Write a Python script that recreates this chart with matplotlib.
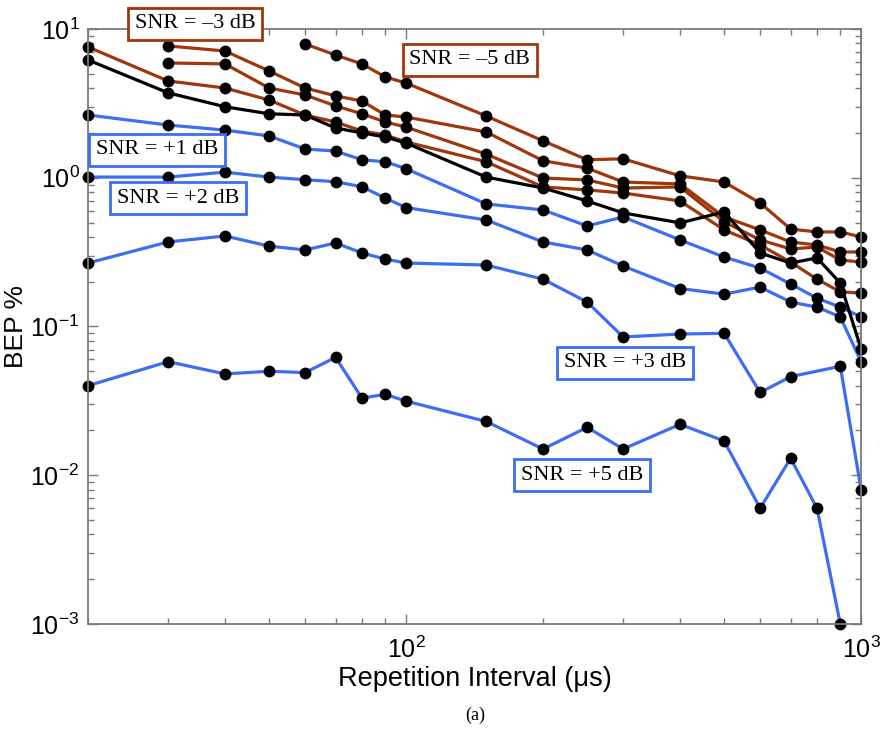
import matplotlib
matplotlib.use("Agg")
import matplotlib.pyplot as plt

plt.rcParams['font.family'] = ['Liberation Sans', 'DejaVu Sans']
plt.rcParams['mathtext.fontset'] = 'custom'
plt.rcParams['mathtext.rm'] = 'Liberation Sans'

# repetition interval (us)
x_all = [20, 30, 40, 50, 60, 70, 80, 90, 100, 150, 200, 250, 300, 400, 500, 600, 700, 800, 900, 1000]
x_from30 = x_all[1:]
x_from60 = x_all[4:]
x_snr5 = x_all[:-1]
x_snr3 = [20, 30, 40, 50, 60, 70, 80, 90, 100, 150, 200, 250, 300, 400, 500, 600, 700, 900, 1000]

# brown curves (low SNR)
brown_a = [7.57, 4.47, 4.01, 3.33, 2.64, 2.37, 2.06, 1.94, 1.74, 1.28, 0.867, 0.828, 0.789, 0.698, 0.446, 0.353, 0.271, 0.208, 0.171, 0.168]
brown_b = [7.69, 7.11, 5.22, 4.01, 3.55, 3.28, 2.64, 2.56, 2.03, 1.30, 1.16, 0.936, 0.908, 0.545, 0.446, 0.370, 0.353, 0.317, 0.317]
brown_c = [5.91, 5.82, 4.01, 3.60, 3.04, 2.69, 2.37, 2.19, 1.44, 0.996, 0.966, 0.853, 0.867, 0.505, 0.382, 0.332, 0.342, 0.280, 0.271]
brown_d = [7.93, 6.68, 5.82, 4.76, 4.33, 2.60, 1.77, 1.32, 1.34, 1.03, 0.936, 0.676, 0.452, 0.432, 0.432, 0.40]

# black curve
black_v = [6.19, 3.72, 3.0, 2.69, 2.64, 2.16, 2.0, 1.88, 1.71, 1.01, 0.853, 0.698, 0.58, 0.497, 0.589, 0.312, 0.267, 0.289, 0.196, 0.0706]

# blue curves (high SNR)
snr1 = [2.64, 2.26, 2.09, 1.91, 1.56, 1.51, 1.32, 1.28, 1.15, 0.667, 0.607, 0.474, 0.545, 0.382, 0.293, 0.247, 0.193, 0.155, 0.135, 0.116]
snr2 = [1.01, 1.01, 1.09, 1.01, 0.97, 0.94, 0.87, 0.73, 0.63, 0.52, 0.37, 0.327, 0.255, 0.18, 0.165, 0.184, 0.146, 0.135, 0.116, 0.058]
snr3 = [0.267, 0.37, 0.406, 0.347, 0.327, 0.364, 0.312, 0.284, 0.267, 0.259, 0.208, 0.146, 0.085, 0.089, 0.090, 0.036, 0.046, 0.054, 0.008]
snr5 = [0.040, 0.058, 0.048, 0.050, 0.049, 0.062, 0.033, 0.035, 0.0315, 0.023, 0.015, 0.021, 0.015, 0.022, 0.017, 0.006, 0.013, 0.006, 0.001]

BROWN = '#A0360C'
BLUE = '#3D6EF2'

fig = plt.figure(figsize=(8.85, 7.37), dpi=100)
ax = fig.add_axes([0.0994, 0.1533, 0.8736, 0.8074])

mk = dict(marker='o', markersize=7.5, markerfacecolor='black', markeredgecolor='black',
          lw=2.3, clip_on=False)

ax.plot(x_all, snr1, color=BLUE, **mk)
ax.plot(x_all, snr2, color=BLUE, **mk)
ax.plot(x_snr3, snr3, color=BLUE, **mk)
ax.plot(x_snr5, snr5, color=BLUE, **mk)

ax.plot(x_all, brown_a, color=BROWN, **mk)
ax.plot(x_from30, brown_b, color=BROWN, **mk)
ax.plot(x_from30, brown_c, color=BROWN, **mk)
ax.plot(x_from60, brown_d, color=BROWN, **mk)

ax.plot(x_all, black_v, color='black', **mk)

ax.set_xscale('log')
ax.set_yscale('log')
ax.set_xlim(20, 1000)
ax.set_ylim(1e-3, 10)

for s in ax.spines.values():
    s.set_color('#7a7a7a')
    s.set_linewidth(1.3)
ax.tick_params(which='both', direction='in', top=True, right=True, color='#7a7a7a', labelsize=18)
ax.tick_params(which='major', length=7, width=1)
ax.tick_params(which='minor', length=4, width=1)
ax.tick_params(axis='x', pad=9)
ax.tick_params(axis='y', pad=6)

ax.set_xlabel('Repetition Interval (μs)', fontsize=19.5, labelpad=2)
ax.set_ylabel('BEP %', fontsize=19, labelpad=2)

# labels of the curves
box_font = dict(fontsize=16, family='Liberation Serif', ha='center', va='center')
def label(x, y, txt, col):
    ax.text(x, y, txt, **box_font, clip_on=False,
            bbox=dict(boxstyle='square,pad=0.3', facecolor='white', edgecolor=col, linewidth=2))

label(34.4, 10.8, 'SNR = –3 dB', BROWN)
label(138, 6.19, 'SNR = –5 dB', BROWN)
label(28.4, 1.54, 'SNR = +1 dB', BLUE)
label(31.5, 0.73, 'SNR = +2 dB', BLUE)
label(303, 0.0569, 'SNR = +3 dB', BLUE)
label(244, 0.0100, 'SNR = +5 dB', BLUE)

fig.text(0.537, 0.03, '(a)', fontsize=13, family='Liberation Serif', ha='center', va='center')

fig.savefig('out.png', dpi=100)
